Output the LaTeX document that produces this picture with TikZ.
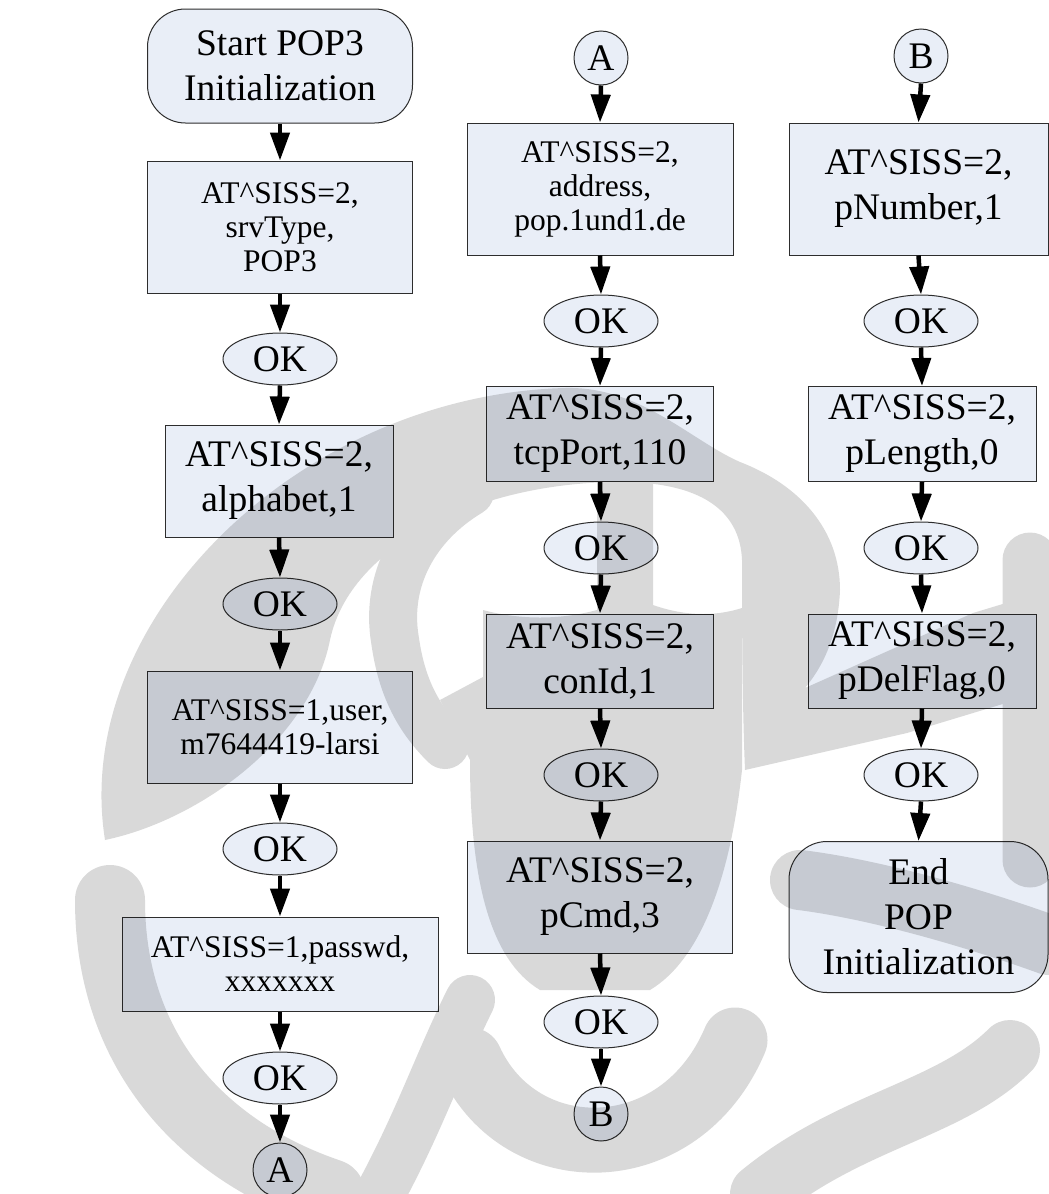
\documentclass[tikz,border=0pt]{standalone}
\usepackage{fontspec}
\setmainfont{Liberation Serif}
\usetikzlibrary{shapes.geometric, arrows.meta}
\definecolor{boxfill}{RGB}{233,238,247}
\definecolor{boxline}{RGB}{45,45,45}
\tikzset{
  base/.style={draw=boxline, line width=1pt, fill=boxfill, inner sep=0pt, align=center, text=black},
  cmdsmall/.style={base, rectangle, font=\fontsize{31.5}{34}\selectfont},
  cmdbig/.style={base, rectangle, font=\fontsize{37.5}{45}\selectfont},
  terminal/.style={base, rectangle, rounded corners=38pt, font=\fontsize{37.5}{45}\selectfont},
  okstate/.style={base, ellipse, minimum width=114pt, minimum height=52pt, font=\fontsize{37.5}{45}\selectfont},
  connector/.style={base, circle, minimum size=54pt, font=\fontsize{37.5}{45}\selectfont},
  flow/.style={line width=4.5pt, -{Triangle[width=19pt,length=28pt]}},
  mark band/.style={line width=#1, line cap=round},
}
\newcommand{\siss}{AT\textasciicircum SISS}
\begin{document}
\begin{tikzpicture}[x=1pt, y=-1pt]
\useasboundingbox (0,0) rectangle (1049,1194);
\clip (0,0) rectangle (1049,1194);

% first column
\node[terminal, minimum width=265pt, minimum height=114pt] (start) at (280,66) {Start POP3\\Initialization};
\node[cmdsmall, minimum width=265pt, minimum height=132pt] (srv) at (280,227) {\siss=2,\\srvType,\\POP3};
\node[okstate] (ok1) at (280,359) {OK};
\node[cmdbig, minimum width=228pt, minimum height=112pt] (alpha) at (279,481) {\siss=2,\\alphabet,1};
\node[okstate] (ok2) at (280,604) {OK};
\node[cmdsmall, minimum width=265pt, minimum height=112pt] (user) at (280,727) {\siss=1,user,\\m7644419-larsi};
\node[okstate] (ok3) at (280,849) {OK};
\node[cmdsmall, minimum width=316pt, minimum height=94pt] (pass) at (280,964) {\siss=1,passwd,\\xxxxxxx};
\node[okstate] (ok4) at (280,1078) {OK};
\node[connector] (aout) at (280,1170) {A};

% second column
\node[connector] (ain) at (601,58) {A};
\node[cmdsmall, minimum width=266pt, minimum height=132pt] (addr) at (600,189) {\siss=2,\\address,\\pop.1und1.de};
\node[okstate] (ok5) at (601,321) {OK};
\node[cmdbig, minimum width=227pt, minimum height=95pt] (tcp) at (600,434) {\siss=2,\\tcpPort,110};
\node[okstate] (ok6) at (601,548) {OK};
\node[cmdbig, minimum width=227pt, minimum height=94pt] (con) at (600,661) {\siss=2,\\conId,1};
\node[okstate] (ok7) at (601,775) {OK};
\node[cmdbig, minimum width=265pt, minimum height=112pt] (pcmd) at (600,897) {\siss=2,\\pCmd,3};
\node[okstate] (ok8) at (601,1022) {OK};
\node[connector] (bout) at (601,1114) {B};

% third column
\node[connector] (bin) at (921,56) {B};
\node[cmdbig, minimum width=259pt, minimum height=132pt] (pnum) at (918.5,189) {\siss=2,\\pNumber,1};
\node[okstate] (ok9) at (921,321) {OK};
\node[cmdbig, minimum width=228pt, minimum height=95pt] (plen) at (922,434) {\siss=2,\\pLength,0};
\node[okstate] (ok10) at (921,548) {OK};
\node[cmdbig, minimum width=228pt, minimum height=94pt] (pdel) at (922,661) {\siss=2,\\pDelFlag,0};
\node[okstate] (ok11) at (921,775) {OK};
\node[terminal, minimum width=259pt, minimum height=151pt] (finish) at (918.5,917) {End\\POP\\Initialization};

% connectors
\foreach \a/\b in {start/srv, srv/ok1, ok1/alpha, alpha/ok2, ok2/user, user/ok3, ok3/pass, pass/ok4, ok4/aout,
                   ain/addr, addr/ok5, ok5/tcp, tcp/ok6, ok6/con, con/ok7, ok7/pcmd, pcmd/ok8, ok8/bout,
                   bin/pnum, pnum/ok9, ok9/plen, plen/ok10, ok10/pdel, pdel/ok11, ok11/finish}
  \draw[flow] (\a.south) -- (\b.north);

% watermark emblem laid over the chart
\begin{scope}[transparency group, opacity=0.15]
  % outer crescent and right-hand sweep
  \fill (105,840) .. controls (70,620) and (300,395) .. (565,388)
        .. controls (640,386) and (690,440) .. (740,462)
        .. controls (800,485) and (840,530) .. (840,590)
        .. controls (838,640) and (820,670) .. (805,688)
        -- (973,613) -- (1049,590) -- (1049,690) -- (907,733) -- (745,770)
        .. controls (742,700) and (742,600) .. (742,560)
        .. controls (740,510) and (700,482) .. (620,482)
        .. controls (480,482) and (350,545) .. (330,640)
        .. controls (310,740) and (200,820) .. (105,840) -- cycle;
  % trunk and central mass
  \fill (597,470) -- (653,470) -- (653,605)
        .. controls (690,618) and (720,615) .. (742,608) -- (742,770)
        .. controls (730,880) and (700,960) .. (650,990) -- (540,990)
        .. controls (490,960) and (470,880) .. (470,760) -- (440,700) -- (483,677) -- (483,610)
        .. controls (520,620) and (560,620) .. (597,610) -- cycle;
  % inner ring
  \draw[mark band=48pt] (470,492) .. controls (415,525) and (385,580) .. (395,640)
        .. controls (402,690) and (420,720) .. (445,745);
  % right-hand coil
  \draw[mark band=55pt] (1030,560) -- (1030,860);
  \draw[mark band=60pt] (800,880) .. controls (880,890) and (980,920) .. (1049,945);
  \draw[mark band=60pt] (760,1194) .. controls (850,1120) and (950,1110) .. (1010,1050);
  % roots below the trunk
  \draw[mark band=65pt] (470,1060) .. controls (520,1170) and (680,1170) .. (735,1040);
  \draw[mark band=50pt] (380,1194) .. controls (420,1120) and (440,1060) .. (470,1000);
  % lower left coil
  \draw[mark band=70pt] (110,900) .. controls (110,1050) and (200,1150) .. (330,1194);
\end{scope}
\end{tikzpicture}
\end{document}
